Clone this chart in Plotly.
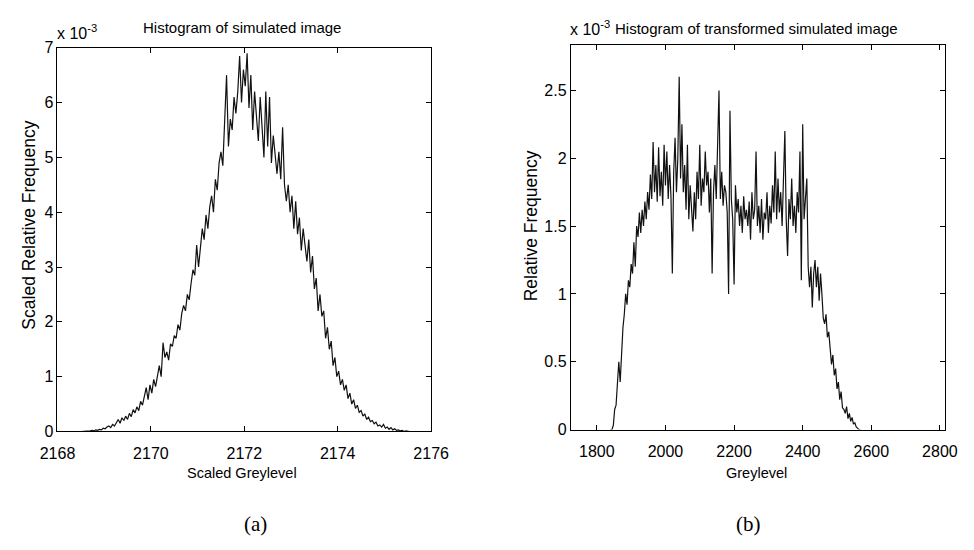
import plotly.graph_objects as go

# ---------------- data ----------------
# (a) Histogram of simulated image: scaled greylevel bins start at 2168.5, width 0.04
sim_bin_start = 2168.5
sim_bin_width = 0.04
sim_freq = [
    0, 0, 0, 0.01, 0, 0.01, 0.02, 0.01, 0.03, 0.02,
    0.04, 0.03, 0.06, 0.05, 0.08, 0.1, 0.07, 0.13, 0.1, 0.16,
    0.22, 0.15, 0.25, 0.2, 0.28, 0.22, 0.33, 0.27, 0.4, 0.34,
    0.45, 0.38, 0.55, 0.48, 0.62, 0.8, 0.58, 0.85, 0.7, 0.95,
    0.82, 1.05, 1.2, 1.0, 1.62, 1.35, 1.45, 1.3, 1.6, 1.55,
    1.75, 1.7, 1.95, 1.85, 2.15, 2.3, 2.2, 2.5, 2.4, 2.7,
    2.95, 2.85, 3.4, 3.0, 3.3, 3.7, 3.5, 3.95, 3.7, 4.1,
    4.3, 4.0, 4.6, 4.4, 4.9, 5.1, 4.85, 5.6, 6.5, 5.2,
    5.7, 5.5, 6.1, 5.8, 6.2, 6.85, 6.0, 6.6, 6.3, 6.9,
    5.9, 6.5, 5.5, 6.2, 5.7, 5.3, 6.1, 5.6, 5.0, 6.2,
    5.2, 6.1, 4.9, 5.4, 5.0, 4.7, 5.1, 4.6, 5.55, 4.5,
    4.2, 4.5, 4.0, 4.3, 3.7, 4.2, 3.6, 3.9, 3.3, 3.7,
    3.4, 3.1, 3.5, 2.9, 3.2, 2.6, 2.8, 2.2, 2.5, 2.1,
    2.2, 1.7, 1.9, 1.5, 1.65, 1.2, 1.35, 1.0, 1.1, 0.85,
    0.95, 0.75, 0.85, 0.6, 0.7, 0.5, 0.58, 0.42, 0.48, 0.35,
    0.38, 0.28, 0.32, 0.22, 0.26, 0.18, 0.2, 0.14, 0.17, 0.1,
    0.12, 0.08, 0.13, 0.06, 0.08, 0.04, 0.07, 0.03, 0.05, 0.02,
    0.03, 0.01, 0.02, 0, 0.01, 0, 0, 0, 0, 0,
]

# (b) Histogram of transformed simulated image: greylevel bins start at 1840, width 4
tr_bin_start = 1840
tr_bin_width = 4
tr_freq = [
    0, 0, 0.03, 0.15, 0.18, 0.32, 0.5, 0.35, 0.62, 0.75,
    0.85, 1.0, 0.92, 1.1, 1.05, 1.22, 1.15, 1.38, 1.2, 1.5,
    1.42, 1.6, 1.45, 1.62, 1.5, 1.68, 1.55, 1.75, 1.62, 1.88,
    1.7, 2.12, 1.75, 1.95, 1.68, 2.08, 1.72, 1.9, 1.65, 2.1,
    1.8, 2.05, 1.7, 1.95, 1.72, 1.15, 1.9, 2.15, 1.75, 2.0,
    2.6, 1.85, 2.25, 1.75, 1.95, 1.62, 2.1, 1.55, 1.8, 1.6,
    1.46, 1.75, 1.55, 1.9, 1.7, 2.1, 1.65, 1.85, 1.75, 2.05,
    1.8, 1.9, 1.6, 1.85, 1.15, 1.75, 1.95, 1.7, 2.05, 2.5,
    1.7, 1.9, 1.65, 1.8, 1.75, 1.6, 1.0, 2.35, 1.7, 1.55,
    1.07, 1.8, 1.6, 1.7, 1.5, 1.65, 1.45, 1.72, 1.55, 1.62,
    1.5, 1.68, 1.4, 1.75, 1.55, 1.62, 2.05, 1.5, 1.65, 1.45,
    1.7, 1.4, 1.6, 1.55, 1.75, 1.45, 1.65, 1.52, 1.8, 1.6,
    2.05, 1.55, 1.85, 1.6, 1.75, 1.5, 1.85, 2.2, 1.55, 1.28,
    1.7, 1.55, 1.85, 1.5, 1.65, 1.45, 1.75, 1.6, 2.05, 1.1,
    2.25, 1.55, 1.7, 1.85, 1.2, 1.05, 1.2, 0.9, 1.15, 1.25,
    1.05, 1.2, 0.95, 1.15, 1.0, 0.82, 0.78, 0.85, 0.68, 0.72,
    0.6, 0.48, 0.55, 0.4, 0.45, 0.3, 0.35, 0.22, 0.28, 0.16,
    0.15, 0.12, 0.17, 0.08, 0.12, 0.06, 0.09, 0.04, 0.05, 0.02,
    0.01, 0, 0,
]

left_xticks = [2168, 2170, 2172, 2174, 2176]
left_yticks = [0, 1, 2, 3, 4, 5, 6, 7]
right_xticks = [1800, 2000, 2200, 2400, 2600, 2800]
right_yticks = [0, 0.5, 1, 1.5, 2, 2.5]

# ---------------- figure ----------------
W, H = 974, 550
FONT = "Liberation Sans, Arial, sans-serif"
SERIF = "Liberation Serif, DejaVu Serif, serif"


def px(x):
    return x / W


def py(y):
    return 1 - y / H


fig = go.Figure()
fig.add_trace(go.Scatter(y=sim_freq, x0=sim_bin_start, dx=sim_bin_width, mode="lines",
                         line=dict(color="#111111", width=1.2), xaxis="x", yaxis="y",
                         showlegend=False, hoverinfo="skip"))
fig.add_trace(go.Scatter(y=tr_freq, x0=tr_bin_start, dx=tr_bin_width, mode="lines",
                         line=dict(color="#111111", width=1.2), xaxis="x2", yaxis="y2",
                         showlegend=False, hoverinfo="skip"))

axis_common = dict(showline=True, linecolor="black", linewidth=1, mirror="ticks",
                   ticks="inside", ticklen=5, tickcolor="black", tickwidth=1,
                   showgrid=False, zeroline=False,
                   tickfont=dict(family=FONT, size=16, color="black"))

fig.update_layout(
    width=W, height=H,
    margin=dict(l=0, r=0, t=0, b=0),
    paper_bgcolor="white", plot_bgcolor="white",
    xaxis=dict(domain=[px(41), px(429)], range=[2168, 2176], tickvals=left_xticks,
               anchor="y", ticklabelstandoff=7, **axis_common),
    yaxis=dict(domain=[py(437), py(41)], range=[0, 7], tickvals=left_yticks,
               anchor="x", **axis_common),
    xaxis2=dict(domain=[px(574), px(963)], range=[1724, 2816], tickvals=right_xticks,
                anchor="y2", ticklabelstandoff=7, **axis_common),
    yaxis2=dict(domain=[py(435), py(38)], range=[0, 2.836], tickvals=right_yticks,
                anchor="x2", **axis_common),
)

def ann(text, x, y, size, family=FONT, angle=0, xanchor="center", yanchor="middle"):
    fig.add_annotation(text=text, x=px(x), y=py(y), xref="paper", yref="paper",
                       showarrow=False, textangle=angle, xanchor=xanchor, yanchor=yanchor,
                       font=dict(family=family, size=size, color="black"))

ann("Histogram of simulated image", 233, 20, 15)
ann("Histogram of transformed simulated image", 767, 21, 15)
ann("x 10<sup>-3</sup>", 38, 25, 16, xanchor="left")
ann("x 10<sup>-3</sup>", 571, 21, 16, xanchor="left")
ann("Scaled Relative Frequency", 12, 224, 17.5, angle=-90)
ann("Relative Frequency", 533, 225, 17.5, angle=-90)
ann("Scaled Greylevel", 233, 480, 14.5)
ann("Greylevel", 767, 480, 14.5)
ann("(a)", 247, 532, 21, family=SERIF)
ann("(b)", 759, 532, 21, family=SERIF)

fig.write_html("out.html")
